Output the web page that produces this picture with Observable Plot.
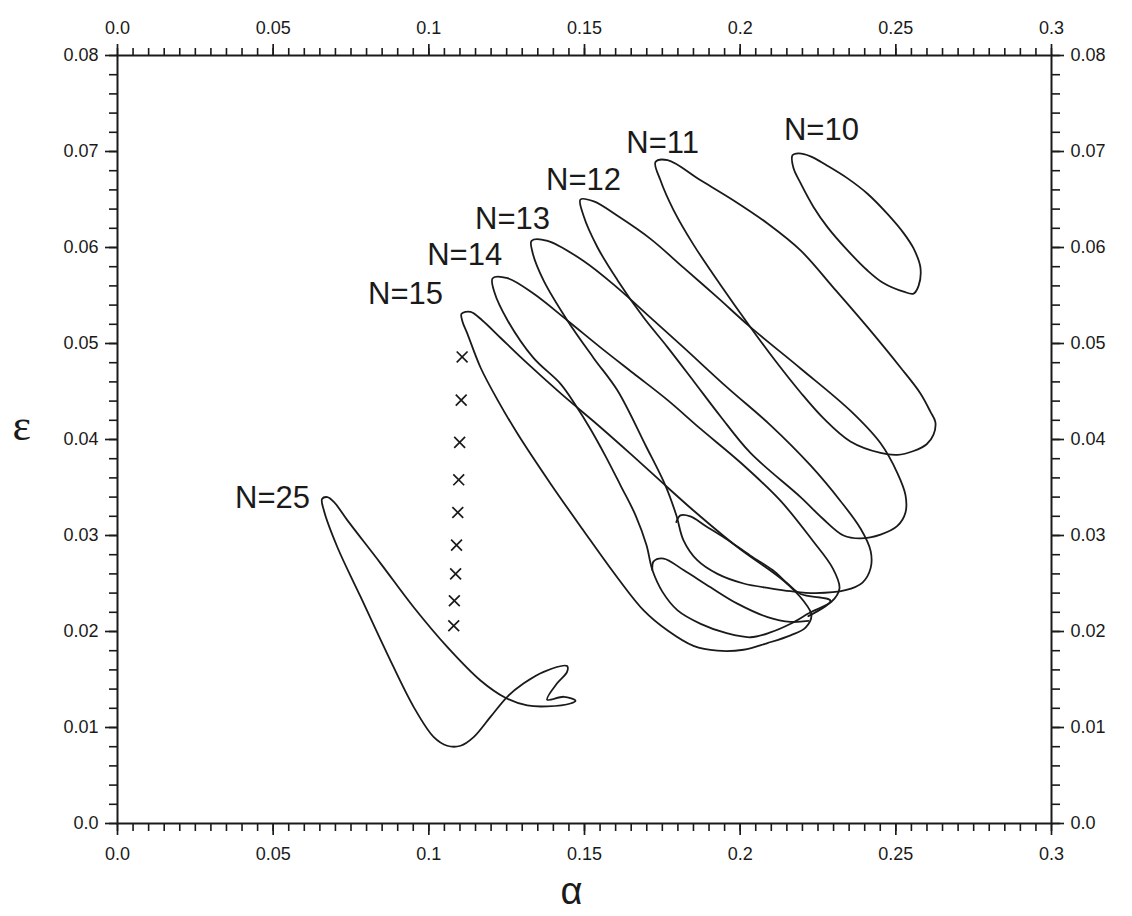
<!DOCTYPE html>
<html>
<head>
<meta charset="utf-8">
<script src="https://cdn.jsdelivr.net/npm/d3@7"></script>
<script src="https://cdn.jsdelivr.net/npm/@observablehq/plot@0.6"></script>
<style>
  html, body { margin: 0; padding: 0; background: #fff; }
  #chart svg { display: block; }
</style>
</head>
<body>
<div id="chart"></div>
<script>
// ---- tick labels ----
const xMajor = [0, 0.05, 0.1, 0.15, 0.2, 0.25, 0.3];
const xLabels = ["0.0", "0.05", "0.1", "0.15", "0.2", "0.25", "0.3"];
const yMajor = [0, 0.01, 0.02, 0.03, 0.04, 0.05, 0.06, 0.07, 0.08];
const yLabels = ["0.0", "0.01", "0.02", "0.03", "0.04", "0.05", "0.06", "0.07", "0.08"];

// ---- curves (alpha, epsilon) ----
const n10Alpha = [0.2168,0.2187,0.2226,0.2281,0.2345,0.2409,0.2473,0.2525,0.2557,0.2579,0.2573,0.2557,0.2525,0.2460,0.2409,0.2345,0.2281,0.2236,0.2194,0.2171];
const n10Eps   = [0.0696,0.0698,0.0695,0.0685,0.0672,0.0656,0.0635,0.0615,0.0599,0.0579,0.0560,0.0552,0.0554,0.0563,0.0576,0.0597,0.0621,0.0642,0.0667,0.0683];

const n11Alpha = [0.1728,0.1767,0.1873,0.1979,0.2088,0.2194,0.2300,0.2409,0.2515,0.2579,0.2611,0.2627,0.2621,0.2599,0.2557,0.2505,0.2451,0.2354,0.2268,0.2194,0.2113,0.2033,0.1937,0.1850,0.1786,0.1744];
const n11Eps   = [0.0689,0.0691,0.0670,0.0649,0.0625,0.0597,0.0558,0.0517,0.0475,0.0448,0.0429,0.0418,0.0405,0.0395,0.0388,0.0384,0.0386,0.0398,0.0422,0.0449,0.0482,0.0517,0.0561,0.0603,0.0639,0.0670];

const n12Alpha = [0.1487,0.1530,0.1606,0.1712,0.1818,0.1927,0.2033,0.2194,0.2354,0.2451,0.2505,0.2531,0.2531,0.2505,0.2451,0.2387,0.2332,0.2264,0.2194,0.2033,0.1937,0.1850,0.1767,0.1690,0.1606,0.1542,0.1497];
const n12Eps   = [0.0650,0.0648,0.0633,0.0609,0.0579,0.0548,0.0517,0.0474,0.0430,0.0396,0.0365,0.0342,0.0324,0.0310,0.0301,0.0297,0.0300,0.0318,0.0340,0.0386,0.0424,0.0461,0.0496,0.0527,0.0566,0.0600,0.0633];

const n13Alpha = [0.1330,0.1381,0.1497,0.1606,0.1712,0.1818,0.1959,0.2097,0.2226,0.2322,0.2387,0.2419,0.2419,0.2393,0.2338,0.2242,0.2162,0.2097,0.2011,0.1927,0.1863,0.1818,0.1795,0.1760,0.1696,0.1606,0.1529,0.1445,0.1368,0.1333];
const n13Eps   = [0.0607,0.0607,0.0586,0.0558,0.0527,0.0496,0.0454,0.0415,0.0373,0.0336,0.0307,0.0284,0.0266,0.0251,0.0243,0.0240,0.0242,0.0245,0.0250,0.0260,0.0274,0.0295,0.0321,0.0352,0.0394,0.0451,0.0485,0.0524,0.0566,0.0595];

const n14Alpha = [0.1205,0.1253,0.1336,0.1445,0.1551,0.1657,0.1767,0.1873,0.2001,0.2130,0.2232,0.2297,0.2319,0.2293,0.2226,0.2162,0.2097,0.2033,0.1959,0.1873,0.1799,0.1751,0.1718,0.1699,0.1664,0.1616,0.1567,0.1519,0.1471,0.1423,0.1336,0.1253,0.1211];
const n14Eps   = [0.0568,0.0568,0.0552,0.0524,0.0496,0.0469,0.0441,0.0411,0.0376,0.0336,0.0295,0.0266,0.0245,0.0231,0.0220,0.0208,0.0199,0.0194,0.0198,0.0208,0.0222,0.0241,0.0264,0.0290,0.0321,0.0352,0.0383,0.0411,0.0436,0.0458,0.0485,0.0524,0.0553];

const n15Alpha = [0.1105,0.1134,0.1172,0.1230,0.1294,0.1365,0.1445,0.1529,0.1648,0.1767,0.1850,0.1991,0.2139,0.2203,0.2229,0.2210,0.2162,0.2088,0.2011,0.1927,0.1850,0.1767,0.1690,0.1606,0.1497,0.1391,0.1285,0.1221,0.1166,0.1124,0.1108];
const n15Eps   = [0.0531,0.0533,0.0524,0.0506,0.0486,0.0465,0.0442,0.0419,0.0385,0.0350,0.0326,0.0288,0.0253,0.0232,0.0217,0.0204,0.0196,0.0188,0.0181,0.0180,0.0185,0.0201,0.0222,0.0256,0.0305,0.0354,0.0406,0.0441,0.0475,0.0510,0.0523];

// small inner branches near the bottom of the N=13..15 loops (open)
const innerAAlpha = [0.1795,0.1808,0.1840,0.1889,0.1953,0.2033,0.2104,0.2152,0.2194,0.2290,0.2219];
const innerAEps   = [0.0314,0.0321,0.0320,0.0310,0.0297,0.0279,0.0264,0.0250,0.0239,0.0232,0.0216];
const innerBAlpha = [0.1718,0.1722,0.1754,0.1818,0.1905,0.1991,0.2088,0.2162,0.2219];
const innerBEps   = [0.0264,0.0273,0.0276,0.0264,0.0246,0.0229,0.0215,0.0210,0.0211];

const n25Alpha = [0.0657,0.0663,0.0706,0.0781,0.0866,0.0952,0.1016,0.1059,0.1102,0.1144,0.1198,0.1252,0.1305,0.1369,0.1444,0.1444,0.1412,0.1380,0.1434,0.1471,0.1455,0.1380,0.1316,0.1246,0.1166,0.1059,0.0952,0.0845,0.0738,0.0695,0.0674];
const n25Eps   = [0.0338,0.0326,0.0288,0.0236,0.0177,0.0121,0.0090,0.0081,0.0081,0.0090,0.0111,0.0132,0.0146,0.0158,0.0164,0.0158,0.0146,0.0129,0.0132,0.0128,0.0125,0.0122,0.0123,0.0131,0.0149,0.0184,0.0225,0.0271,0.0316,0.0335,0.0340];

// crosses
const crossAlpha = [0.1107,0.1104,0.1099,0.1096,0.1093,0.1089,0.1086,0.1082,0.1080];
const crossEps   = [0.0486,0.0441,0.0397,0.0358,0.0324,0.0290,0.0260,0.0232,0.0206];

// curve labels
const labelText  = ["N=10","N=11","N=12","N=13","N=14","N=15","N=25"];
const labelAlpha = [0.2261,0.1751,0.1497,0.1269,0.1115,0.0925,0.0498];
const labelEps   = [0.0722,0.0709,0.0670,0.0630,0.0592,0.0551,0.0339];

// ---- build tables ----
const rows = (A, E) => A.map((a, i) => ({a, e: E[i]}));
const closedCurves = [
  rows(n10Alpha, n10Eps), rows(n11Alpha, n11Eps), rows(n12Alpha, n12Eps),
  rows(n13Alpha, n13Eps), rows(n14Alpha, n14Eps), rows(n15Alpha, n15Eps),
  rows(n25Alpha, n25Eps)
];
const openCurves = [rows(innerAAlpha, innerAEps), rows(innerBAlpha, innerBEps)];
const crosses = rows(crossAlpha, crossEps);
const labels = labelText.map((t, i) => ({t, a: labelAlpha[i], e: labelEps[i]}));

const xMinor = d3.range(0, 61).map(i => i * 0.005);
const yMinor = d3.range(0, 41).map(i => i * 0.002);
const fx = d => xLabels[xMajor.indexOf(d)];
const fy = d => yLabels[yMajor.indexOf(d)];
const none = () => "";

const ink = "#1a1a1a";
const lineW = 1.8;

const marks = [];
for (const side of ["bottom", "top"]) {
  marks.push(Plot.axisX(xMinor, {anchor: side, tickSize: 8, tickFormat: none, label: null, stroke: ink, strokeWidth: 1.6}));
  marks.push(Plot.axisX(xMajor, {anchor: side, tickSize: 12, tickPadding: side === "top" ? 10 : 12, tickFormat: fx, label: null, stroke: ink, strokeWidth: 1.7, fontSize: 18, fill: ink}));
}
for (const side of ["left", "right"]) {
  marks.push(Plot.axisY(yMinor, {anchor: side, tickSize: 8, tickFormat: none, label: null, stroke: ink, strokeWidth: 1.6}));
  marks.push(Plot.axisY(yMajor, {anchor: side, tickSize: 12, tickPadding: 7, tickFormat: fy, label: null, stroke: ink, strokeWidth: 1.7, fontSize: 18, fill: ink}));
}
marks.push(Plot.frame({stroke: ink, strokeWidth: 2}));
for (const c of closedCurves) {
  marks.push(Plot.line(c, {x: "a", y: "e", curve: "catmull-rom-closed", stroke: ink, strokeWidth: lineW}));
}
for (const c of openCurves) {
  marks.push(Plot.line(c, {x: "a", y: "e", curve: "catmull-rom", stroke: ink, strokeWidth: lineW}));
}
marks.push(Plot.dot(crosses, {x: "a", y: "e", symbol: "times", r: 5, stroke: ink, strokeWidth: 1.7}));
marks.push(Plot.text(labels, {x: "a", y: "e", text: "t", fontSize: 31, fill: ink, fontFamily: "Liberation Sans"}));
marks.push(Plot.text(["α"], {frameAnchor: "bottom", dx: -13, dy: 80, fontSize: 38, fill: ink, fontFamily: "Liberation Sans"}));
marks.push(Plot.text(["ε"], {frameAnchor: "left", dx: -105, dy: -14, fontSize: 44, fill: ink, fontFamily: "Liberation Serif"}));

const chart = Plot.plot({
  width: 1132,
  height: 916,
  marginLeft: 117,
  marginRight: 81,
  marginTop: 55,
  marginBottom: 93,
  x: {domain: [0, 0.3], axis: null, label: null},
  y: {domain: [0, 0.08], axis: null, label: null},
  style: {fontFamily: "Liberation Sans", background: "#fff", color: ink},
  marks
});
document.getElementById("chart").appendChild(chart);
</script>
</body>
</html>
